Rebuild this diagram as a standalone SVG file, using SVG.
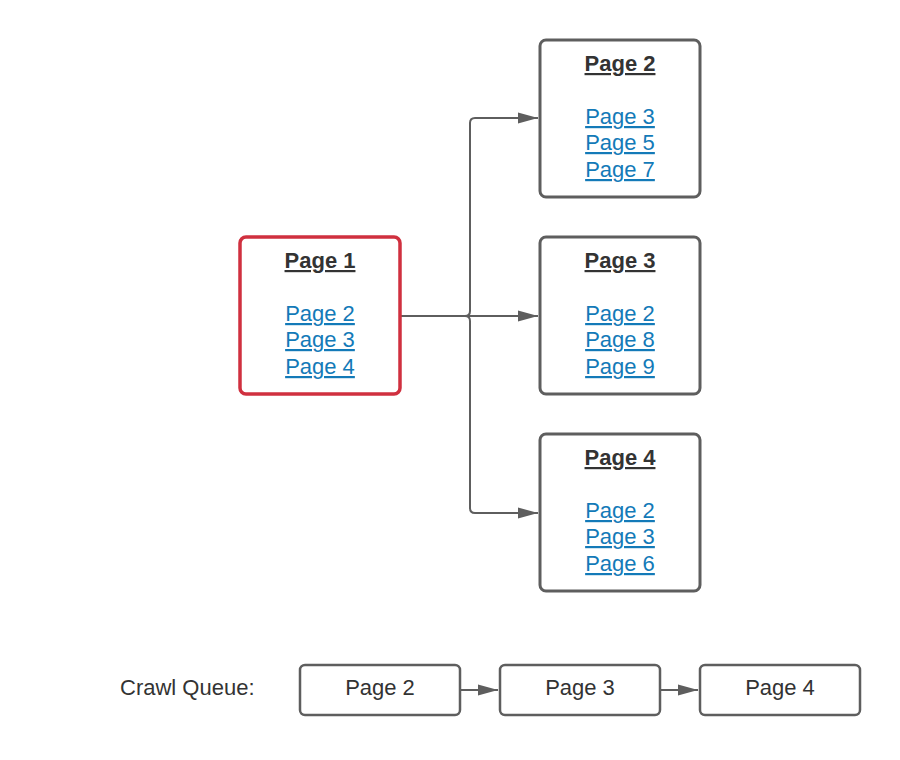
<svg xmlns="http://www.w3.org/2000/svg" width="900" height="760" viewBox="0 0 900 760">
<defs>
<marker id="arr" markerWidth="20" markerHeight="14" refX="20" refY="7" orient="auto" markerUnits="userSpaceOnUse">
<path d="M0,1.5 L20,7 L0,12.5 Z" fill="#5e5e5e"/>
</marker>
<style>
.box{fill:#fff;stroke:#5e5e5e;stroke-width:3}
.red{fill:#fff;stroke:#d0303f;stroke-width:3.5}
.q{fill:#fff;stroke:#5e5e5e;stroke-width:2.5}
text{font-family:"Liberation Sans",Arial,sans-serif;font-size:22px;text-anchor:middle}
.t{font-weight:bold;fill:#333;text-decoration:underline}
.l{fill:#137ab8;text-decoration:underline}
.p{fill:#333}
.c{fill:none;stroke:#5e5e5e;stroke-width:2}
</style>
</defs>
<rect width="900" height="760" fill="#fff"/>
<g id="connectors">
<path class="c" d="M400,316 H465 Q470,316 470,311 V123 Q470,118 475,118 H538" marker-end="url(#arr)"/>
<path class="c" d="M400,316 H538" marker-end="url(#arr)"/>
<path class="c" d="M465,316 Q470,316 470,321 V508 Q470,513 475,513 H538" marker-end="url(#arr)"/>
<path class="c" d="M460,690 H498" marker-end="url(#arr)"/>
<path class="c" d="M660,690 H698" marker-end="url(#arr)"/>
</g>
<g id="page1">
<rect class="red" x="240" y="237" width="160" height="157" rx="6"/>
<text class="t" x="320" y="268">Page 1</text>
<text class="l" x="320" y="321">Page 2</text>
<text class="l" x="320" y="347">Page 3</text>
<text class="l" x="320" y="374">Page 4</text>
</g>
<g id="page2">
<rect class="box" x="540" y="40" width="160" height="157" rx="6"/>
<text class="t" x="620" y="71">Page 2</text>
<text class="l" x="620" y="124">Page 3</text>
<text class="l" x="620" y="150">Page 5</text>
<text class="l" x="620" y="177">Page 7</text>
</g>
<g id="page3">
<rect class="box" x="540" y="237" width="160" height="157" rx="6"/>
<text class="t" x="620" y="268">Page 3</text>
<text class="l" x="620" y="321">Page 2</text>
<text class="l" x="620" y="347">Page 8</text>
<text class="l" x="620" y="374">Page 9</text>
</g>
<g id="page4">
<rect class="box" x="540" y="434" width="160" height="157" rx="6"/>
<text class="t" x="620" y="465">Page 4</text>
<text class="l" x="620" y="518">Page 2</text>
<text class="l" x="620" y="544">Page 3</text>
<text class="l" x="620" y="571">Page 6</text>
</g>
<g id="label">
<text class="p" x="120" y="695" style="text-anchor:start">Crawl Queue:</text>
</g>
<g id="q1">
<rect class="q" x="300" y="665" width="160" height="50" rx="5"/>
<text class="p" x="380" y="695">Page 2</text>
</g>
<g id="q2">
<rect class="q" x="500" y="665" width="160" height="50" rx="5"/>
<text class="p" x="580" y="695">Page 3</text>
</g>
<g id="q3">
<rect class="q" x="700" y="665" width="160" height="50" rx="5"/>
<text class="p" x="780" y="695">Page 4</text>
</g>
</svg>
